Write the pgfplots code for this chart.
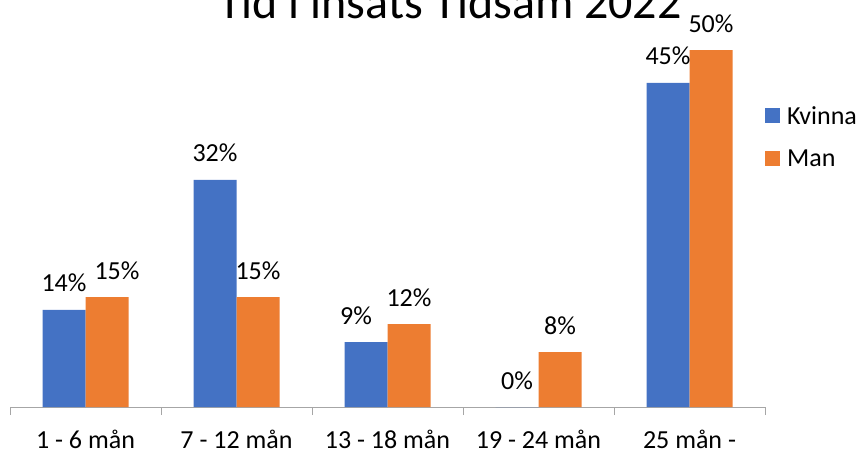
\documentclass[border=0pt]{standalone}
\usepackage{fontspec}
\setmainfont{Carlito}
\usepackage{pgfplots}
\pgfplotsset{compat=1.18}
\definecolor{cblue}{HTML}{4472C4}
\definecolor{corange}{HTML}{ED7D31}
\definecolor{axisgray}{HTML}{A6A6A6}
\begin{document}
\begin{tikzpicture}
\begin{axis}[
  at={(10pt,46pt)}, anchor=south west,
  scale only axis,
  width=755pt, height=392.7pt,
  xmin=-0.5, xmax=4.5, ymin=0, ymax=55,
  clip=false,
  hide y axis,
  axis x line*=bottom,
  x axis line style={color=axisgray, line width=0.8pt, -},
  ybar=0pt, bar width=43pt,
  xtick={0,1,2,3,4},
  xticklabels={1 - 6 mån, 7 - 12 mån, 13 - 18 mån, 19 - 24 mån, 25 mån -},
  major tick length=0pt,
  xticklabel style={anchor=base, yshift=-41.5pt, font=\fontsize{26}{30}\selectfont, inner sep=0pt},
  extra x ticks={-0.5,0.5,1.5,2.5,3.5,4.5},
  extra x tick labels={},
  extra x tick style={major tick length=8pt, tick align=outside, tick style={color=axisgray, line width=0.8pt}},
  title={Tid i insats Tidsam 2022},
  title style={at={(0.5828,0.975)}, anchor=base, font=\fontsize{48}{54}\selectfont, inner sep=0pt},
  nodes near coords={\pgfmathprintnumber[fixed,precision=0,assume math mode=true]{\pgfplotspointmeta}\%},
  every node near coord/.append style={anchor=base, yshift=18pt, inner sep=0pt, font=\fontsize{26}{30}\selectfont, text=black},
  legend style={at={(1.0,0.7665)}, anchor=north west, draw=none, fill=none, inner sep=0pt,
    font=\fontsize{26}{30}\selectfont, row sep=24pt, column sep=0pt,
    nodes={inner sep=0pt}},
  legend cell align=left,
  legend image code/.code={\fill[#1] (0pt,-7.5pt) rectangle (15pt,7.5pt);},
]
\addplot[fill=cblue, draw=none,
  visualization depends on={x \as \xv},
  every node near coord/.append style={xshift={ifthenelse(\xv==2,-10,0)}}]
  coordinates {(0,13.6) (1,31.8) (2,9.1) (3,0) (4,45.4)};
\addplot[fill=corange, draw=none,
  visualization depends on={x \as \xv},
  every node near coord/.append style={xshift={ifthenelse(\xv==0,10,0)}}]
  coordinates {(0,15.4) (1,15.4) (2,11.6) (3,7.7) (4,50.0)};
\legend{\hspace{7pt}Kvinna, \hspace{7pt}Man}
\end{axis}
\pgfresetboundingbox
\useasboundingbox (0,0) rectangle (859pt,453pt);
\end{tikzpicture}
\end{document}
